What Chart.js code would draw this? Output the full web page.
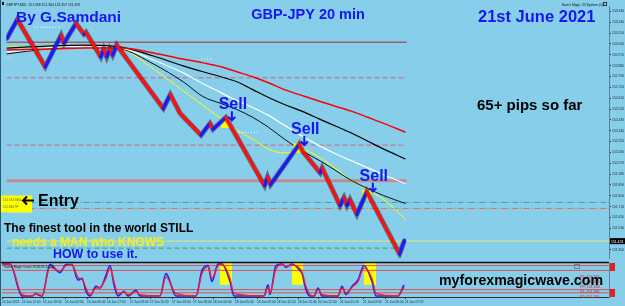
<!DOCTYPE html>
<html>
<head>
<meta charset="utf-8">
<script src="https://cdn.jsdelivr.net/npm/chart.js@4.4.1/dist/chart.umd.min.js"></script>
<style>
html, body { margin: 0; padding: 0; background: #87ceeb; overflow: hidden; }
#wrap { position: relative; width: 625px; height: 306px; }
canvas { position: absolute; left: 0; top: 0; }
</style>
</head>
<body>
<div id="wrap">
  <canvas id="oscChart" width="625" height="306"></canvas>
  <canvas id="priceChart" width="625" height="306"></canvas>
</div>
<script>
// ---- price window data (bar index, price) ----
const zigBars = [0, 5.5, 19.5, 27.5, 29, 35, 39, 40, 47.5, 49, 50.5, 52, 53.5, 55.5, 79, 82.5, 87.5, 98, 102.5, 104, 110.5, 130, 131.5, 133, 147.5, 149, 158, 159, 168, 170, 171.5, 173, 176.5, 181.5, 198, 200.5];
const zigPrices = [153.100, 153.264, 152.870, 153.133, 153.067, 153.231, 153.141, 153.157, 152.952, 153.018, 152.952, 153.018, 152.968, 153.051, 152.524, 152.640, 152.483, 152.303, 152.401, 152.352, 152.450, 151.883, 151.957, 151.892, 152.229, 152.171, 151.990, 152.031, 151.719, 151.785, 151.719, 151.768, 151.645, 151.834, 151.316, 151.431];

const maBars = [0, 20, 40, 58, 74, 89, 99, 108, 116, 124, 132, 140, 149, 158, 166, 174, 182, 190, 201];
const maRed = [153.009, 153.018, 153.026, 153.026, 152.985, 152.935, 152.903, 152.870, 152.829, 152.788, 152.738, 152.681, 152.631, 152.582, 152.541, 152.500, 152.451, 152.401, 152.327];
const maBlackSlow = [153.026, 153.042, 153.051, 153.034, 152.960, 152.878, 152.829, 152.788, 152.746, 152.681, 152.615, 152.557, 152.500, 152.434, 152.377, 152.319, 152.253, 152.187, 152.105];
const maWhite = [152.993, 153.026, 153.042, 153.026, 152.927, 152.820, 152.730, 152.656, 152.590, 152.533, 152.467, 152.385, 152.294, 152.212, 152.146, 152.089, 152.031, 151.974, 151.900];
const maBlackFast = [152.977, 153.018, 153.042, 153.018, 152.894, 152.746, 152.623, 152.566, 152.516, 152.451, 152.368, 152.270, 152.171, 152.089, 152.007, 151.924, 151.859, 151.801, 151.735];
const maYellow = [153.034, 153.042, 153.042, 153.018, 152.853, 152.672, 152.549, 152.442, 152.344, 152.270, 152.187, 152.155, 152.179, 152.114, 152.023, 151.924, 151.850, 151.768, 151.604];

const levelPrices = [153.075, 152.779, 152.220, 151.924, 151.744, 151.694, 151.365, 151.423];
const levelEnds = [201.5, 201.5, 201.5, 201.5, 303.5, 303.5, 201.5, 303.5];
const dotPrices = [153.199, 152.944, 152.935, 152.327];
const dotFrom = [14, 0, 98, 115.5];
const dotTo = [27.5, 3, 103, 126.5];

const sellBars = [110.5, 147, 181.5];
const sellPrices = [152.401, 152.196, 151.809];
const entryPrice = 151.744;
const currentPrice = 151.423;

const priceTicks = [153.330, 153.240, 153.150, 153.060, 152.970, 152.880, 152.790, 152.700, 152.610, 152.520, 152.430, 152.340, 152.250, 152.160, 152.070, 151.980, 151.890, 151.800, 151.710, 151.620, 151.530, 151.350];

// ---- oscillator window ----
const oscBars = [0, 4, 10, 15, 17, 18, 20, 24, 29, 32, 35, 38, 40, 42, 44, 47, 49, 52, 54, 56, 58, 61, 63, 67, 69, 79, 82, 87, 97, 100, 103, 105, 108, 110, 114, 116, 131, 133, 134, 137, 140, 142, 145, 149, 150, 152, 154, 156, 158, 160, 168, 170, 172, 175, 178, 181, 185, 187, 198, 201];
const oscK = [100, 100, 0, 0, 8, 4, 0, 98, 73, 98, 98, 50, 55, 15, 0, 30, 25, 65, 95, 35, 0, 15, 0, 18, 0, 0, 70, 0, 0, 80, 95, 45, 100, 100, 45, 0, 0, 35, 5, 95, 100, 90, 100, 80, 70, 20, 0, 0, 25, 0, 0, 30, 5, 30, 50, 95, 45, 0, 0, 35];
const oscD = [100, 100, 5, 0, 6, 5, 2, 90, 78, 95, 98, 58, 52, 25, 4, 25, 27, 55, 88, 45, 8, 12, 4, 14, 4, 0, 60, 8, 0, 70, 92, 55, 95, 100, 55, 8, 0, 28, 10, 85, 98, 93, 97, 85, 75, 30, 5, 0, 20, 5, 0, 25, 10, 27, 45, 88, 55, 8, 0, 28];
const oscLevels = [95, 80, 20, 10];
const zoneFrom = [109, 145, 181];
const zoneTo = [115, 150.5, 187];
const zoneLow = 35;

const oscTickBars = [0, 10, 20.5, 31.5, 42.5, 52.5, 64, 74, 85, 95.5, 105.5, 116.5, 127.5, 137.5, 148, 158, 169, 180.5, 191.5, 201.5];
const oscTickLabels = ['14 Jun 2021', '15 Jun 12:00', '15 Jun 18:40', '16 Jun 02:00', '16 Jun 09:40', '16 Jun 17:00', '17 Jun 03:00', '17 Jun 10:20', '17 Jun 13:00', '17 Jun 18:40', '18 Jun 00:00', '18 Jun 05:40', '18 Jun 09:00', '18 Jun 12:20', '18 Jun 15:40', '20 Jun 22:00', '21 Jun 01:20', '21 Jun 03:40', '21 Jun 06:00', '21 Jun 07:07'];

const FONT = '"Liberation Sans", Arial, sans-serif';
const BLUE_TXT = '#1616ee';
const RED = '#ff1010';
const BLUE = '#1a1aff';

function pts(xs, ys) {
    return xs.map((v, i) => ({ x: v, y: ys[i] }));
}

function txt(ctx, s, x, y, size, color, align, weight) {
    ctx.font = `${weight || 'bold'} ${size}px ${FONT}`;
    ctx.fillStyle = color;
    ctx.textAlign = align || 'left';
    ctx.textBaseline = 'alphabetic';
    ctx.fillText(s, x, y);
}

function downArrow(ctx, x, y0, y1, color) {
    ctx.strokeStyle = color;
    ctx.lineWidth = 2;
    ctx.beginPath();
    ctx.moveTo(x, y0);
    ctx.lineTo(x, y1);
    ctx.moveTo(x - 3.5, y1 - 3.5);
    ctx.lineTo(x, y1);
    ctx.lineTo(x + 3.5, y1 - 3.5);
    ctx.stroke();
}

// level line styles: [color, width, dash]
const levelStyles = [
    ['#a85a60', 1.5, []],
    ['#d8607a', 1, [5, 3]],
    ['#d8607a', 1, [5, 3]],
    ['#c48c8c', 3, []],
    ['#3fa584', 1, [6, 2, 1, 2]],
    ['#e8704e', 1, [6, 2, 1, 2]],
    ['#3fa060', 1, [5, 3]],
    ['#e6e878', 1, []]
];

const priceDatasets = [];

levelPrices.forEach((p, i) => {
    const st = levelStyles[i];
    priceDatasets.push({
        data: [{ x: 0, y: p }, { x: levelEnds[i], y: p }],
        borderColor: st[0], borderWidth: st[1], borderDash: st[2],
        pointRadius: 0, order: 6
    });
});

dotPrices.forEach((p, i) => {
    priceDatasets.push({
        data: [{ x: dotFrom[i], y: p }, { x: dotTo[i], y: p }],
        borderColor: '#ffffff', borderWidth: 1, borderDash: [1, 2],
        pointRadius: 0, order: 6
    });
});

// moving averages
[[maRed, '#ff0000', 1.5], [maBlackSlow, '#000000', 1.2], [maWhite, '#ffffff', 1.2],
 [maBlackFast, '#101010', 1], [maYellow, '#ffff00', 1]].forEach(m => {
    priceDatasets.push({
        data: pts(maBars, m[0]),
        borderColor: m[1], borderWidth: m[2],
        tension: 0.4, cubicInterpolationMode: 'monotone',
        pointRadius: 0, order: 5
    });
});

// sell boxes
priceDatasets.push({
    data: pts(sellBars, sellPrices),
    showLine: false, pointStyle: 'rect', pointRadius: 6.5,
    pointBackgroundColor: '#ffff00', pointBorderWidth: 0, order: 4
});

// zigzag shadow + zigzag
priceDatasets.push({
    data: pts(zigBars, zigPrices),
    borderColor: 'rgba(45,15,25,0.5)', borderWidth: 5,
    pointRadius: 0, tension: 0, order: 3
});
priceDatasets.push({
    data: pts(zigBars, zigPrices),
    borderWidth: 3.2, borderCapStyle: 'round', borderJoinStyle: 'round',
    pointRadius: 0, tension: 0, order: 2,
    segment: {
        borderColor: c => c.p1.parsed.y >= c.p0.parsed.y ? BLUE : RED
    }
});

const overlayPlugin = {
    id: 'overlay',
    afterDraw(chart) {
        const { ctx, scales: { x, y } } = chart;
        ctx.save();

        // left frame
        ctx.strokeStyle = '#2f5a6e';
        ctx.lineWidth = 1;
        ctx.beginPath();
        ctx.moveTo(0.5, 0);
        ctx.lineTo(0.5, 306);
        ctx.stroke();

        // tiny headers
        ctx.fillStyle = '#111';
        ctx.fillRect(2, 2, 2, 3);
        txt(ctx, 'GBPJPY,M20  151.358 151.364 151.357 151.359', 6, 5.5, 3.4, '#111', 'left', 'normal');
        txt(ctx, "Sam's Magic 20 System (1)", 603, 5.5, 3.4, '#111', 'right', 'normal');
        ctx.strokeStyle = '#333';
        ctx.strokeRect(603.5, 2.5, 3, 3);

        // titles
        txt(ctx, 'By G.Samdani', 16, 22, 15.5, BLUE_TXT);
        txt(ctx, 'GBP-JPY 20 min', 308, 19, 14.5, BLUE_TXT, 'center');
        txt(ctx, '21st June 2021', 478, 22, 16.5, BLUE_TXT);
        txt(ctx, '65+ pips so far', 477, 110, 15, '#000');

        // sell notes
        sellBars.forEach((b, i) => {
            const px = x.getPixelForValue(b);
            const py = y.getPixelForValue(sellPrices[i]);
            txt(ctx, 'Sell', px + 7, py - 14, 16, BLUE_TXT, 'center');
            downArrow(ctx, px + 6, py - 12, py - 3, BLUE_TXT);
        });

        // entry note
        const ey = y.getPixelForValue(entryPrice);
        ctx.fillStyle = '#ffff00';
        ctx.fillRect(1, ey - 7, 31, 17);
        txt(ctx, '151.744 SELL', 3, ey - 1, 3, '#555', 'left', 'normal');
        txt(ctx, '151.694 TP', 3, ey + 6, 3, '#555', 'left', 'normal');
        ctx.strokeStyle = '#000';
        ctx.lineWidth = 2;
        ctx.beginPath();
        ctx.moveTo(34, ey - 2);
        ctx.lineTo(23, ey - 2);
        ctx.moveTo(27, ey - 6);
        ctx.lineTo(23, ey - 2);
        ctx.lineTo(27, ey + 2);
        ctx.stroke();
        txt(ctx, 'Entry', 38, ey + 4, 16, '#000');

        // slogan
        txt(ctx, 'The finest tool in the world STILL', 4, 232, 12, '#000');
        txt(ctx, 'needs a MAN who KNOWS', 12, 246, 12, '#f4f01c');
        txt(ctx, 'HOW to use it.', 53, 258, 12.4, BLUE_TXT);

        // current price box
        const cy = y.getPixelForValue(currentPrice);
        ctx.fillStyle = '#000';
        ctx.fillRect(610, cy - 3, 15, 6);
        txt(ctx, currentPrice.toFixed(3), 611, cy + 1.5, 3.4, '#fff', 'left', 'normal');

        // oscillator-side labels
        txt(ctx, "Sam's Magic Cross 13,30,50 12,19", 4, 267.5, 3.2, '#111', 'left', 'normal');
        ctx.strokeStyle = '#6a7f9a';
        ctx.lineWidth = 1;
        ctx.strokeRect(574.5, 264.5, 5, 4);
        ['R2: 152.196', 'R1: 151.926', 'PP: 151.656', 'S1: 151.386', 'S2: 151.116'].forEach((s, i) => {
            txt(ctx, s, 580, 278 + i * 5, 3.6, '#e01818', 'left', 'normal');
        });
        txt(ctx, 'myforexmagicwave.com', 439, 285, 14.2, '#000');

        ctx.restore();
    }
};

const priceChart = new Chart(document.getElementById('priceChart'), {
    type: 'line',
    data: { datasets: priceDatasets },
    options: {
        responsive: false,
        animation: false,
        devicePixelRatio: 1,
        layout: { padding: { left: 2, top: 4, bottom: 48, right: 0 } },
        plugins: { legend: { display: false }, tooltip: { enabled: false } },
        scales: {
            x: { type: 'linear', min: 0, max: 303.5, display: false },
            y: {
                position: 'right',
                min: 151.283,
                max: 153.371,
                afterFit: s => { s.width = 16; },
                afterBuildTicks: s => { s.ticks = priceTicks.map(v => ({ value: v })); },
                ticks: {
                    autoSkip: false,
                    padding: 1,
                    color: '#1e2a30',
                    font: { size: 3.4, family: FONT },
                    callback: v => Number(v).toFixed(3)
                },
                grid: { drawOnChartArea: false, tickLength: 2, color: '#333' },
                border: { display: true, color: '#5d7f8f' }
            }
        }
    },
    plugins: [overlayPlugin]
});

// ---- oscillator chart ----
const oscDatasets = [];
oscLevels.forEach(v => {
    oscDatasets.push({
        data: [{ x: 0, y: v }, { x: 303.5, y: v }],
        borderColor: '#e05050', borderWidth: 1, pointRadius: 0, order: 5
    });
});
oscDatasets.push({
    data: pts(oscBars, oscK),
    borderColor: '#2020ff', borderWidth: 1.6, pointRadius: 0,
    tension: 0.4, cubicInterpolationMode: 'monotone', order: 3
});
oscDatasets.push({
    data: pts(oscBars, oscD),
    borderColor: '#ff2020', borderWidth: 1.3, pointRadius: 0,
    tension: 0.4, cubicInterpolationMode: 'monotone', order: 2
});

const oscPlugin = {
    id: 'oscExtras',
    beforeDatasetsDraw(chart) {
        const { ctx, chartArea, scales: { x, y } } = chart;
        ctx.save();
        ctx.fillStyle = '#ffff00';
        zoneFrom.forEach((f, i) => {
            const x0 = x.getPixelForValue(f);
            const x1 = x.getPixelForValue(zoneTo[i]);
            const yb = y.getPixelForValue(zoneLow);
            ctx.fillRect(x0, chartArea.top, x1 - x0, yb - chartArea.top);
        });
        ctx.restore();
    },
    afterDraw(chart) {
        const { ctx, chartArea } = chart;
        ctx.save();
        ctx.strokeStyle = '#111';
        ctx.lineWidth = 1.5;
        ctx.beginPath();
        ctx.moveTo(0, chartArea.top - 0.5);
        ctx.lineTo(chartArea.right, chartArea.top - 0.5);
        ctx.stroke();
        ctx.fillStyle = '#e82020';
        ctx.fillRect(chartArea.right + 1, chartArea.top, 5, 8);
        ctx.fillRect(chartArea.right + 1, chartArea.bottom - 8, 5, 8);
        ctx.restore();
    }
};

const oscChart = new Chart(document.getElementById('oscChart'), {
    type: 'line',
    data: { datasets: oscDatasets },
    options: {
        responsive: false,
        animation: false,
        devicePixelRatio: 1,
        layout: { padding: { left: 2, top: 263, bottom: 0, right: 0 } },
        plugins: { legend: { display: false }, tooltip: { enabled: false } },
        scales: {
            x: {
                type: 'linear',
                min: 0,
                max: 303.5,
                afterFit: s => { s.height = 9; },
                afterBuildTicks: s => { s.ticks = oscTickBars.map(v => ({ value: v })); },
                ticks: {
                    autoSkip: false,
                    maxRotation: 0,
                    align: 'start',
                    padding: 1,
                    color: '#1e2a30',
                    font: { size: 3.2, family: FONT },
                    callback: (v, i) => oscTickLabels[i]
                },
                grid: { drawOnChartArea: false, tickLength: 2, color: '#333' },
                border: { display: true, color: '#333' }
            },
            y: {
                position: 'right',
                min: -3,
                max: 103,
                afterFit: s => { s.width = 16; },
                ticks: { display: false },
                grid: { drawOnChartArea: false, tickLength: 0 },
                border: { display: true, color: '#5d7f8f' }
            }
        }
    },
    plugins: [oscPlugin]
});
</script>
</body>
</html>
